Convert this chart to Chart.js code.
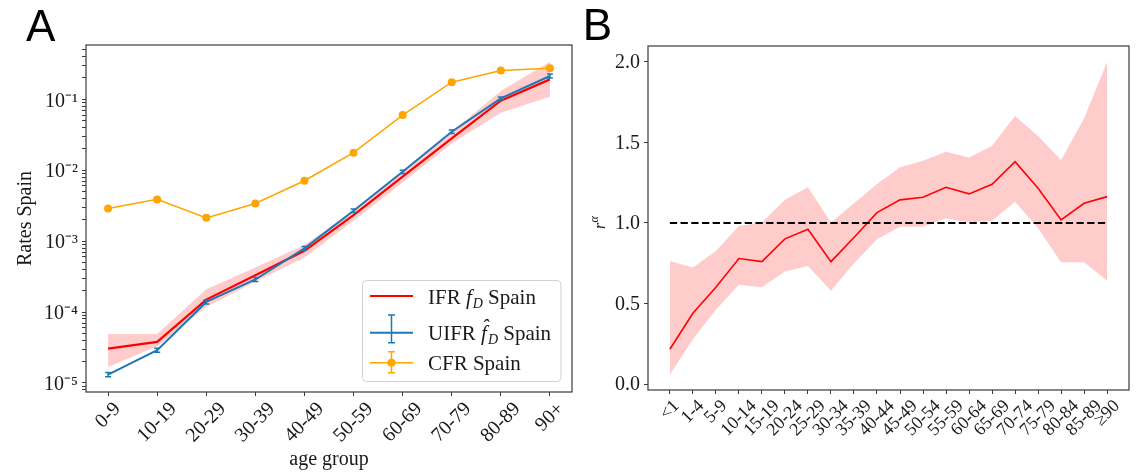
<!DOCTYPE html>
<html>
<head>
<meta charset="utf-8">
<script src="https://cdn.jsdelivr.net/npm/chart.js@4.4.1/dist/chart.umd.min.js"></script>
<style>
html, body { margin: 0; padding: 0; background: #fff; }
#wrap { position: relative; width: 1136px; height: 473px; overflow: hidden; }
#chartA { position: absolute; left: 0; top: 0; }
#chartB { position: absolute; left: 580px; top: 0; }
</style>
</head>
<body>
<div id="wrap">
	<canvas id="chartA" width="580" height="473"></canvas>
	<canvas id="chartB" width="556" height="473"></canvas>
</div>
<script>
// panel A : rates by age group, Spain (log scale)
var ageGroupsA = ["0-9", "10-19", "20-29", "30-39", "40-49", "50-59", "60-69", "70-79", "80-89", "90+"];
var ifrSpain  = [3.05e-5, 3.8e-5, 1.5e-4, 3.3e-4, 7.3e-4, 2.33e-3, 8.1e-3, 2.81e-2, 9.55e-2, 0.191];
var ifrLow    = [1.68e-5, 3.3e-5, 1.18e-4, 2.67e-4, 5.9e-4, 1.94e-3, 6.7e-3, 2.39e-2, 6.48e-2, 0.109];
var ifrHigh   = [4.9e-5, 4.9e-5, 2.09e-4, 4.26e-4, 8.8e-4, 2.7e-3, 9.7e-3, 3.5e-2, 0.131, 0.339];
var uifrSpain = [1.31e-5, 2.9e-5, 1.39e-4, 2.88e-4, 7.9e-4, 2.68e-3, 9.5e-3, 3.49e-2, 0.103, 0.213];
var uifrLow   = [1.22e-5, 2.72e-5, 1.3e-4, 2.7e-4, 7.45e-4, 2.53e-3, 9.0e-3, 3.3e-2, 0.098, 0.2];
var uifrHigh  = [1.4e-5, 3.1e-5, 1.48e-4, 3.07e-4, 8.4e-4, 2.84e-3, 1.0e-2, 3.7e-2, 0.108, 0.227];
var cfrSpain  = [2.89e-3, 3.88e-3, 2.13e-3, 3.4e-3, 7.1e-3, 1.77e-2, 6.0e-2, 0.174, 0.254, 0.274];
var yMajorA   = [1e-5, 1e-4, 1e-3, 1e-2, 1e-1];
var yLabelsA  = ["10⁻⁵", "10⁻⁴", "10⁻³", "10⁻²", "10⁻¹"];

// panel B : r^alpha by age group
var ageGroupsB = ["<1", "1-4", "5-9", "10-14", "15-19", "20-24", "25-29", "30-34", "35-39", "40-44",
	"45-49", "50-54", "55-59", "60-64", "65-69", "70-74", "75-79", "80-84", "85-89", "≥90"];
var rAlpha     = [0.217, 0.44, 0.601, 0.779, 0.76, 0.901, 0.961, 0.76, 0.91, 1.064,
	1.143, 1.159, 1.221, 1.18, 1.24, 1.38, 1.215, 1.019, 1.122, 1.163];
var rAlphaLow  = [0.058, 0.279, 0.461, 0.616, 0.601, 0.698, 0.733, 0.58, 0.75, 0.899,
	0.977, 0.977, 1.029, 1.002, 1.014, 1.132, 0.967, 0.756, 0.756, 0.642];
var rAlphaHigh = [0.764, 0.723, 0.826, 0.981, 1.002, 1.143, 1.221, 1.002, 1.122, 1.242,
	1.345, 1.386, 1.442, 1.405, 1.479, 1.663, 1.539, 1.39, 1.649, 2.0];
var yTicksB  = [0, 0.5, 1, 1.5, 2];
var refLevel = 1.0;

var serif = '"Liberation Serif", "Times New Roman", serif';
var ink = "#1a1a1a";
var spine = "#3a3a3a";

function pts(arr) {
	return arr.map((v, i) => ({ x: i, y: v }));
}

// major + minor ticks for the log axis
function logTicks(min, max) {
	let out = [];
	for (let e = -6; e <= 0; e++) {
		for (let s = 1; s <= 9; s++) {
			let v = Number((s * Math.pow(10, e)).toPrecision(3));
			if (v >= min && v <= max) out.push({ value: v });
		}
	}
	return out;
}

// frame round the plot area
var boxPlugin = {
	id: "box",
	afterDraw(chart) {
		let ctx = chart.ctx, a = chart.chartArea;
		ctx.save();
		ctx.strokeStyle = spine;
		ctx.lineWidth = 1.2;
		ctx.strokeRect(a.left, a.top, a.right - a.left, a.bottom - a.top);
		ctx.restore();
	}
};

// 45 degree x labels centred on their tick (like matplotlib)
var tiltLabels = {
	id: "tiltLabels",
	afterDraw(chart, args, opts) {
		let ctx = chart.ctx, sc = chart.scales.x;
		ctx.save();
		ctx.font = opts.size + "px " + serif;
		ctx.fillStyle = ink;
		ctx.textAlign = "center";
		ctx.textBaseline = "middle";
		opts.labels.forEach((lab, i) => {
			let w = ctx.measureText(lab).width;
			let x = sc.getPixelForValue(i);
			let y = sc.top + opts.gap + (w + opts.size) * Math.SQRT1_2 / 2;
			ctx.save();
			ctx.translate(x, y);
			ctx.rotate(-Math.PI / 4);
			ctx.fillText(lab, 0, 0);
			ctx.restore();
		});
		ctx.restore();
	}
};

// small error bars on UIFR
var errBars = {
	id: "errBars",
	afterDatasetsDraw(chart, args, opts) {
		let ctx = chart.ctx, xs = chart.scales.x, ys = chart.scales.y;
		ctx.save();
		ctx.strokeStyle = opts.color;
		ctx.lineWidth = 1.5;
		opts.low.forEach((lo, i) => {
			let x = xs.getPixelForValue(i);
			let y0 = ys.getPixelForValue(lo), y1 = ys.getPixelForValue(opts.high[i]);
			ctx.beginPath();
			ctx.moveTo(x, y0); ctx.lineTo(x, y1);
			ctx.moveTo(x - 3, y0); ctx.lineTo(x + 3, y0);
			ctx.moveTo(x - 3, y1); ctx.lineTo(x + 3, y1);
			ctx.stroke();
		});
		ctx.restore();
	}
};

// draw a run of text pieces one after the other
function richText(ctx, parts, x, y) {
	parts.forEach((p) => {
		ctx.font = p.font;
		let fw = ctx.measureText(p.t).width;
		if (p.hat) {
			ctx.textAlign = "center";
			ctx.fillText("ˆ", x + fw * 0.7, y - 6);
			ctx.textAlign = "left";
		}
		ctx.fillText(p.t, x, y + (p.dy || 0));
		x += fw + (p.gap || 0);
	});
}

var panelLetter = {
	id: "panelLetter",
	afterDraw(chart, args, opts) {
		let ctx = chart.ctx;
		ctx.save();
		ctx.font = '44px "Liberation Sans", Arial, sans-serif';
		ctx.fillStyle = "#000";
		ctx.textBaseline = "alphabetic";
		ctx.fillText(opts.text, opts.x, opts.y);
		ctx.restore();
	}
};

// legend of panel A, drawn by hand for the math labels
var legendA = {
	id: "legendA",
	afterDraw(chart) {
		let ctx = chart.ctx;
		let L = 362.5, T = 280.5, W = 198.5, H = 101;
		ctx.save();
		ctx.beginPath();
		ctx.roundRect(L, T, W, H, 4);
		ctx.fillStyle = "rgba(255,255,255,0.85)";
		ctx.fill();
		ctx.strokeStyle = "#d0d0d0";
		ctx.lineWidth = 1;
		ctx.stroke();

		let x0 = 370, x1 = 413, xm = 391.5;
		// IFR
		ctx.strokeStyle = "#ff0000";
		ctx.lineWidth = 2.2;
		ctx.beginPath(); ctx.moveTo(x0, 296); ctx.lineTo(x1, 296); ctx.stroke();
		// UIFR
		ctx.strokeStyle = "#1f77b4";
		ctx.lineWidth = 2;
		ctx.beginPath(); ctx.moveTo(x0, 332.7); ctx.lineTo(x1, 332.7); ctx.stroke();
		ctx.lineWidth = 1.5;
		ctx.beginPath();
		ctx.moveTo(xm, 315); ctx.lineTo(xm, 342.7);
		ctx.moveTo(xm - 3.5, 315); ctx.lineTo(xm + 3.5, 315);
		ctx.moveTo(xm - 3.5, 342.7); ctx.lineTo(xm + 3.5, 342.7);
		ctx.stroke();
		// CFR
		ctx.strokeStyle = "#ffa500";
		ctx.lineWidth = 1.5;
		ctx.beginPath();
		ctx.moveTo(x0, 362.7); ctx.lineTo(x1, 362.7);
		ctx.moveTo(xm, 351.7); ctx.lineTo(xm, 372.7);
		ctx.moveTo(xm - 3.5, 351.7); ctx.lineTo(xm + 3.5, 351.7);
		ctx.moveTo(xm - 3.5, 372.7); ctx.lineTo(xm + 3.5, 372.7);
		ctx.stroke();
		ctx.fillStyle = "#ffa500";
		ctx.beginPath(); ctx.arc(xm, 362.7, 4, 0, Math.PI * 2); ctx.fill();

		ctx.fillStyle = ink;
		ctx.textAlign = "left";
		ctx.textBaseline = "alphabetic";
		let nf = "21px " + serif, itf = "italic 21px " + serif, sf = "italic 14px " + serif;
		richText(ctx, [{ t: "IFR ", font: nf }, { t: "f", font: itf, gap: 1 }, { t: "D", font: sf, dy: 4 }, { t: " Spain", font: nf }], 428, 303.5);
		richText(ctx, [{ t: "UIFR ", font: nf }, { t: "f", font: itf, gap: 1, hat: true }, { t: "D", font: sf, dy: 4 }, { t: " Spain", font: nf }], 428, 340);
		richText(ctx, [{ t: "CFR Spain", font: nf }], 428, 370);
		ctx.restore();
	}
};

// y label of panel B: r^alpha
var rAlphaTitle = {
	id: "rAlphaTitle",
	afterDraw(chart) {
		let ctx = chart.ctx;
		ctx.save();
		ctx.translate(25, 222);
		ctx.rotate(-Math.PI / 2);
		ctx.fillStyle = ink;
		ctx.textBaseline = "alphabetic";
		ctx.font = "italic 16px " + serif;
		let rw = ctx.measureText("r").width;
		ctx.fillText("r", -(rw + 8) / 2, 0);
		ctx.font = "italic 12px " + serif;
		ctx.fillText("α", -(rw + 8) / 2 + rw + 0.5, -7);
		ctx.restore();
	}
};

var lineA = new Chart(document.getElementById("chartA"), {
	type: "line",
	data: {
		datasets: [
			{ data: pts(ifrHigh), borderWidth: 0, pointRadius: 0, fill: false, order: 5 },
			{ data: pts(ifrLow), borderWidth: 0, pointRadius: 0, fill: "-1", backgroundColor: "rgba(255,0,0,0.2)", order: 4 },
			{ label: "IFR Spain", data: pts(ifrSpain), borderColor: "#ff0000", borderWidth: 2.2, pointRadius: 0, order: 3 },
			{ label: "UIFR Spain", data: pts(uifrSpain), borderColor: "#1f77b4", borderWidth: 2, pointRadius: 0, order: 2 },
			{ label: "CFR Spain", data: pts(cfrSpain), borderColor: "#ffa500", borderWidth: 1.5,
				pointRadius: 4, pointBackgroundColor: "#ffa500", pointBorderWidth: 0, order: 1 }
		]
	},
	options: {
		responsive: false,
		animation: false,
		devicePixelRatio: 1,
		events: [],
		layout: { padding: { left: 0, right: 8, top: 45, bottom: 0 } },
		plugins: {
			legend: { display: false },
			tooltip: { enabled: false },
			tiltLabels: { labels: ageGroupsA, size: 20, gap: 7 },
			errBars: { low: uifrLow, high: uifrHigh, color: "#1f77b4" },
			panelLetter: { text: "A", x: 26, y: 40.7 }
		},
		scales: {
			x: {
				type: "linear",
				min: -0.45,
				max: 9.45,
				afterBuildTicks: (s) => { s.ticks = ageGroupsA.map((g, i) => ({ value: i })); },
				afterFit: (s) => { s.height = 81; },
				ticks: { display: false },
				border: { display: false },
				grid: { drawOnChartArea: false, tickLength: 4, tickColor: spine, color: spine },
				title: { display: true, text: "age group", color: ink, font: { family: serif, size: 20 }, padding: { top: 0, bottom: 1 } }
			},
			y: {
				type: "logarithmic",
				min: 7.46e-6,
				max: 0.583,
				afterBuildTicks: (s) => { s.ticks = logTicks(7.46e-6, 0.583); },
				afterFit: (s) => { s.width = 86; },
				ticks: {
					autoSkip: false,
					padding: 4,
					labelOffset: 2,
					color: ink,
					font: { family: serif, size: 20 },
					callback: (v) => {
						let k = yMajorA.indexOf(v);
						return k >= 0 ? yLabelsA[k] : "";
					}
				},
				border: { display: false },
				grid: { drawOnChartArea: false, tickLength: 4, tickColor: spine, color: spine },
				title: { display: true, text: "Rates Spain", color: ink, font: { family: serif, size: 20 }, padding: { top: 14, bottom: 0 } }
			}
		}
	},
	plugins: [boxPlugin, tiltLabels, errBars, legendA, panelLetter]
});

var lineB = new Chart(document.getElementById("chartB"), {
	type: "line",
	data: {
		datasets: [
			{ data: pts(rAlphaHigh), borderWidth: 0, pointRadius: 0, fill: false, order: 4 },
			{ data: pts(rAlphaLow), borderWidth: 0, pointRadius: 0, fill: "-1", backgroundColor: "rgba(255,0,0,0.2)", order: 3 },
			{ label: "r alpha", data: pts(rAlpha), borderColor: "#ff0000", borderWidth: 1.6, pointRadius: 0, order: 2 },
			{ data: [{ x: 0, y: refLevel }, { x: ageGroupsB.length - 1, y: refLevel }], borderColor: "#000",
				borderWidth: 2, borderDash: [7.3, 3.4], pointRadius: 0, order: 1 }
		]
	},
	options: {
		responsive: false,
		animation: false,
		devicePixelRatio: 1,
		events: [],
		layout: { padding: { left: 0, right: 7, top: 46, bottom: 0 } },
		plugins: {
			legend: { display: false },
			tooltip: { enabled: false },
			tiltLabels: { labels: ageGroupsB, size: 18, gap: 7 },
			panelLetter: { text: "B", x: 2.8, y: 39.5 }
		},
		scales: {
			x: {
				type: "linear",
				min: -0.95,
				max: 19.95,
				afterBuildTicks: (s) => { s.ticks = ageGroupsB.map((g, i) => ({ value: i })); },
				afterFit: (s) => { s.height = 83; },
				ticks: { display: false },
				border: { display: false },
				grid: { drawOnChartArea: false, tickLength: 4, tickColor: spine, color: spine }
			},
			y: {
				type: "linear",
				min: -0.036,
				max: 2.097,
				afterBuildTicks: (s) => { s.ticks = yTicksB.map((v) => ({ value: v })); },
				afterFit: (s) => { s.width = 68; },
				ticks: {
					padding: 4,
					labelOffset: 1,
					color: ink,
					font: { family: serif, size: 20 },
					callback: (v) => v.toFixed(1)
				},
				border: { display: false },
				grid: { drawOnChartArea: false, tickLength: 4, tickColor: spine, color: spine }
			}
		}
	},
	plugins: [boxPlugin, tiltLabels, rAlphaTitle, panelLetter]
});
</script>
</body>
</html>
